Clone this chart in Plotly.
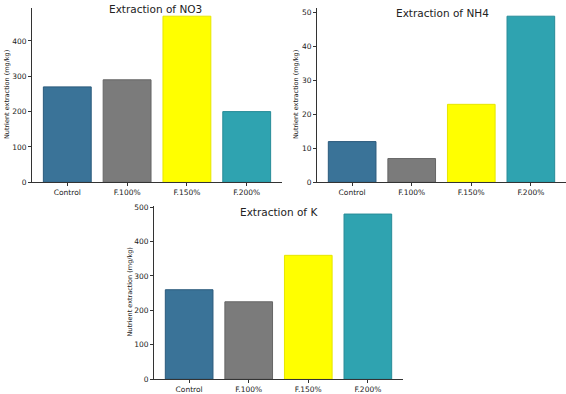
import plotly.graph_objects as go

categories = ["Control", "F.100%", "F.150%", "F.200%"]
no3_values = [270, 290, 470, 200]
nh4_values = [12, 7, 23, 49]
k_values = [260, 225, 360, 480]
no3_ticks = [0, 100, 200, 300, 400]
nh4_ticks = [0, 10, 20, 30, 40, 50]
k_ticks = [0, 100, 200, 300, 400, 500]

bar_colors = ["#3A7398", "#7B7B7B", "#FFFF00", "#2FA3B0"]
edge_colors = ["#2A5A7C", "#666666", "#E6E600", "#278C98"]

W, H = 566, 394
FONT = "DejaVu Sans"

def px(x):
    return x / W

def py(y):
    return 1 - y / H

panels = [
    # values, ticks, x0, x1, ybase, ytop, title, title_x, title_y, ytitle_x
    (no3_values, no3_ticks, 32, 282, 183, 5, "Extraction of NO3", 155, 6, 7),
    (nh4_values, nh4_ticks, 317, 566, 183, 5, "Extraction of NH4", 442, 10, 296),
    (k_values, k_ticks, 154, 403, 384, 207, "Extraction of K", 279, 213, 129),
]

fig = go.Figure()
annotations = []
for i, (vals, ticks, x0, x1, yb, yt, title, tx, ty, ytx) in enumerate(panels):
    n = "" if i == 0 else str(i + 1)
    fig.add_trace(go.Bar(
        x=categories, y=vals,
        marker=dict(color=bar_colors, line=dict(color=edge_colors, width=1)),
        width=0.8, xaxis="x" + n, yaxis="y" + n, showlegend=False,
    ))
    ymax = max(vals) * 1.05
    fig.layout["xaxis" + n] = dict(
        domain=[px(x0), px(x1)], anchor="y" + n, type="category",
        range=[-0.59, 3.59], showline=True, linecolor="#333", linewidth=1,
        ticks="outside", ticklen=3, tickcolor="#333", showgrid=False,
        tickfont=dict(family=FONT, size=7.5, color="#222"), zeroline=False,
    )
    fig.layout["yaxis" + n] = dict(
        domain=[py(yb), py(yt)], anchor="x" + n, range=[0, ymax],
        tickvals=ticks, showline=True, linecolor="#333", linewidth=1,
        ticks="outside", ticklen=3, tickcolor="#333", showgrid=False,
        tickfont=dict(family=FONT, size=7.5, color="#222"), zeroline=False,
    )
    annotations.append(dict(
        x=px(tx), y=py(ty), xref="paper", yref="paper", text=title,
        showarrow=False, xanchor="center", yanchor="middle",
        font=dict(family=FONT, size=10.5, color="#222"),
    ))
    annotations.append(dict(
        x=px(ytx), y=py((yb + yt) / 2), xref="paper", yref="paper",
        text="Nutrient extraction (mg/kg)", textangle=-90,
        showarrow=False, xanchor="center", yanchor="middle",
        font=dict(family=FONT, size=6.5, color="#222"),
    ))

fig.update_layout(
    width=W, height=H, margin=dict(l=0, r=0, t=0, b=0),
    paper_bgcolor="white", plot_bgcolor="white",
    annotations=annotations, bargap=0.2,
)

fig.write_html(
    "out.html",
    config={"displayModeBar": False},
    post_script="document.body.style.margin='0';document.body.style.overflow='hidden';",
)
